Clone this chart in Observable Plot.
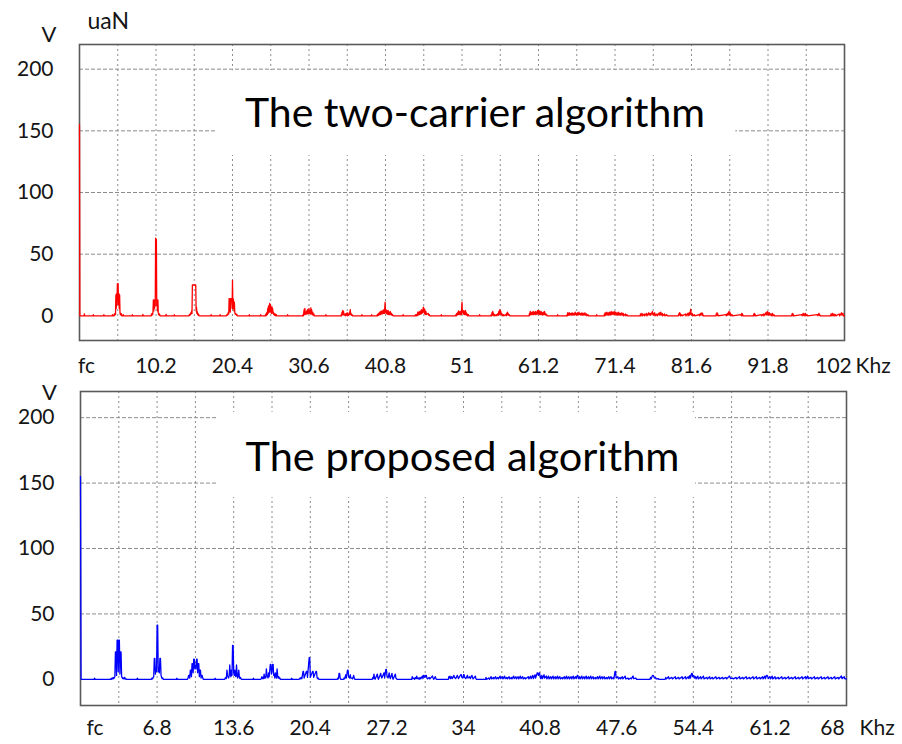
<!DOCTYPE html>
<html><head><meta charset="utf-8">
<script src="https://cdn.jsdelivr.net/npm/d3@7"></script>
<script src="https://cdn.jsdelivr.net/npm/@observablehq/plot@0.6"></script>
<style>
body{margin:0;background:#fff;}
#chart{width:902px;height:744px;overflow:hidden;}
#chart svg{display:block;}
</style></head><body><div id="chart"></div>
<script>
// ---- data: [frequency (kHz), amplitude (V)] ----
const topSpectrum = [
[0,155],[0.05,0],
[0.6,0],[0.65,1.5],[0.7,0],[1.8,0],[1.85,1],[1.9,0],[3.2,0],[3.25,1],[3.3,0],
[4.35,0],[4.4,1],[4.45,0],[4.6,0],[4.65,1.5],[4.7,0.5],[4.75,2],[4.8,1],[4.85,17],[4.9,6],[4.95,18],[5.0,9],[5.05,26],[5.1,12],[5.15,26],[5.2,9],[5.25,18],[5.3,6],[5.35,17],[5.4,2.5],[5.45,1],[5.5,2],[5.55,0.5],[5.6,1.5],[5.65,0],[5.8,0],[5.85,1],[5.9,0],
[7.0,0],[7.05,1],[7.1,0],[8.4,0],[8.45,1.2],[8.5,0],
[9.55,0],[9.6,1.5],[9.65,0.5],[9.7,2],[9.75,1],[9.8,3.5],[9.85,13],[9.9,4],[9.95,13],[10.0,6],[10.05,13],[10.1,8],[10.15,63],[10.2,22],[10.25,62],[10.3,8],[10.35,13],[10.4,4],[10.45,13],[10.5,3],[10.55,1],[10.6,2],[10.65,0.5],[10.7,1],[10.75,0],
[11.5,0],[11.55,1.2],[11.6,0],[12.6,0],[12.65,1],[12.7,0],
[14.6,0],[14.65,1],[14.7,0.5],[14.75,1.5],[14.8,1],[14.85,2.5],[14.9,1.5],[14.95,4],[15.0,2],[15.05,25],[15.5,25],[15.55,4],[15.6,7],[15.65,2],[15.7,3.5],[15.75,1],[15.8,2],[15.85,0.5],[15.9,1],[15.95,0],
[17.5,0],[17.55,1],[17.6,0],[18.7,0],[18.75,1],[18.8,0],
[19.6,0],[19.65,1],[19.7,0.5],[19.75,1.5],[19.8,1],[19.85,3],[19.9,1.5],[19.95,14],[20.0,4],[20.05,14],[20.1,3],[20.15,14],[20.3,14],[20.35,6],[20.4,29],[20.45,6],[20.5,14],[20.55,11],[20.6,4],[20.65,11],[20.7,3],[20.75,1.5],[20.8,2],[20.85,1],[20.9,1.5],[20.95,0.5],[21.0,1],[21.05,0],
[22.6,0],[22.65,1],[22.7,0],[24.1,0],[24.15,1],[24.2,0],
[24.75,0],[24.8,1],[24.85,0],[24.9,2],[24.95,0.5],[25.0,3],[25.05,1],[25.1,6],[25.15,2],[25.2,8],[25.25,3],[25.3,5],[25.35,10],[25.4,3],[25.45,9],[25.5,4],[25.55,5],[25.6,2],[25.65,7.5],[25.7,3],[25.75,6],[25.8,2],[25.85,3],[25.9,1],[25.95,2],[26.0,0.5],[26.1,1.5],[26.15,0],[26.25,1],[26.3,0],
[27.7,0],[27.75,1],[27.8,0],
[29.75,0],[29.8,1],[29.85,0],[29.95,5],[30.0,1],[30.05,6],[30.1,2],[30.15,3],[30.2,1],[30.3,4],[30.35,2],[30.4,5],[30.45,1.5],[30.55,3],[30.6,6],[30.65,2],[30.75,4],[30.8,1.5],[30.85,6.5],[30.9,2],[30.95,5],[31.0,1],[31.1,3],[31.15,0.5],[31.25,1.5],[31.3,0],
[32.8,0],[32.85,1],[32.9,0],
[34.85,0],[34.9,1],[34.95,0],[35.0,3],[35.05,1],[35.1,4.5],[35.15,1.5],[35.2,3.5],[35.25,0.5],[35.4,1.5],[35.45,0],[35.55,2],[35.6,0.5],[35.7,2.5],[35.75,0],[35.85,1.5],[35.9,0.5],[36.0,3],[36.05,1],[36.1,5],[36.15,1.5],[36.2,2],[36.25,0.5],[36.35,1],[36.4,0],
[37.6,0],[37.65,1],[37.7,0],[38.9,0],[38.95,1],[39.0,0],
[39.65,0],[39.7,1],[39.75,0],[39.85,2],[39.9,0.5],[40.0,2.5],[40.05,1],[40.1,3.5],[40.15,1],[40.3,4],[40.35,1.5],[40.45,3],[40.5,4.5],[40.55,2],[40.6,5],[40.65,2],[40.75,11],[40.8,3],[40.85,5],[40.9,2],[40.95,4.5],[41.0,1.5],[41.05,3.5],[41.1,1.5],[41.15,4.5],[41.2,1],[41.3,3],[41.35,1],[41.45,3.5],[41.5,1],[41.6,2],[41.65,0.5],[41.75,1],[41.8,0],
[43.1,0],[43.15,1],[43.2,0],
[44.75,0],[44.8,1],[44.85,0],[44.95,1],[45.0,0],[45.1,3],[45.15,0.5],[45.25,1.5],[45.3,3.5],[45.35,1],[45.45,2],[45.5,4],[45.55,1.5],[45.6,5],[45.65,2],[45.75,3],[45.85,7],[45.9,3],[45.95,6],[46.0,2],[46.05,5],[46.1,1],[46.2,3.5],[46.25,1],[46.35,1.5],[46.5,2],[46.55,0.5],[46.65,1],[46.7,0],
[48.2,0],[48.25,1],[48.3,0],
[50.1,0],[50.2,1],[50.25,0],[50.3,2],[50.35,0.5],[50.45,3],[50.5,1],[50.55,4],[50.6,1.5],[50.65,3],[50.7,1],[50.75,3.5],[50.8,1],[50.85,2.5],[50.9,1],[51.0,11],[51.05,3],[51.1,4.5],[51.15,1.5],[51.2,4],[51.25,1.5],[51.3,3.5],[51.35,1],[51.45,4.5],[51.5,1],[51.55,3],[51.6,0.5],[51.7,1.5],[51.75,0],[51.85,1],[51.9,0],
[53.3,0],[53.35,1],[53.4,0],
[54.85,0],[54.9,1],[54.95,0],[55.0,2.5],[55.05,0.5],[55.1,3.5],[55.15,1],[55.2,2],[55.25,0],[55.35,1],[55.4,0],[55.6,1],[55.65,0],[55.8,2],[55.85,0.5],[55.9,3.5],[55.95,1],[56.05,5],[56.1,1.5],[56.15,4],[56.2,1],[56.3,2],[56.35,0],[56.5,1],[56.55,0],[56.85,1],[56.9,0],[56.95,2],[57.0,0.5],[57.05,3],[57.1,1],[57.15,2],[57.2,0.5],[57.3,1],[57.35,0],
[59.95,0],[60.0,2],[60.05,0.5],[60.1,3.5],[60.15,1],[60.2,3],[60.25,1],[60.35,2],[60.4,3],[60.45,1],[60.5,3.5],[60.55,1],[60.7,3],[60.75,1],[60.8,3.5],[60.85,1.5],[60.95,3],[61.0,1],[61.05,4],[61.1,2],[61.15,4.5],[61.2,2],[61.25,3.5],[61.3,1],[61.35,4],[61.4,1.5],[61.45,3],[61.5,1],[61.55,3.5],[61.6,1],[61.7,2.5],[61.75,0.5],[61.85,3],[61.9,1],[62.0,3.5],[62.05,1],[62.15,2],[62.2,0.5],[62.3,1],[62.35,0],
[63.7,0],[63.75,1],[63.8,0],
[64.95,0],[65.0,1],[65.05,0],[65.1,2.5],[65.15,0.5],[65.2,1.5],[65.25,0.5],[65.3,2.5],[65.35,0.5],[65.5,2],[65.55,0.5],[65.7,2.5],[65.75,0.5],[65.9,2],[65.95,0.5],[66.1,3],[66.15,1],[66.2,2],[66.25,0.5],[66.4,2.5],[66.45,0.5],[66.6,3],[66.65,1],[66.8,2],[66.85,0.5],[67.0,2.5],[67.05,0.5],[67.2,2],[67.25,0.5],[67.4,2.5],[67.45,0.5],[67.6,1.5],[67.65,0],[67.8,1],[67.85,0],
[68.9,0],[68.95,1],[69.0,0],
[69.95,0],[70.0,1.5],[70.05,0],[70.1,2.5],[70.15,0.5],[70.3,3],[70.35,0.5],[70.5,2.5],[70.55,0.5],[70.7,3],[70.75,0.5],[70.9,3.5],[70.95,1],[71.1,3],[71.15,1],[71.3,3.5],[71.35,1],[71.5,3],[71.55,0.5],[71.7,2.5],[71.75,0.5],[71.9,3],[71.95,0.5],[72.1,2],[72.15,0.5],[72.3,2.5],[72.35,0.5],[72.5,2],[72.55,0],[72.8,1.5],[72.85,0],[73.0,1],[73.05,0],
[74.75,0],[74.8,1.5],[74.85,0],[75.0,2],[75.05,0],[75.3,1.5],[75.35,0],[75.6,2],[75.65,0],[75.9,2.5],[75.95,0.5],[76.1,2],[76.15,0.5],[76.4,3.5],[76.45,1],[76.5,2],[76.55,0.5],[76.7,2.5],[76.75,0],[77.0,1.5],[77.05,0],[77.3,2.5],[77.35,0.5],[77.5,3],[77.55,0.5],[77.7,2],[77.75,0],[78.0,1.5],[78.05,0],[78.3,1],[78.35,0],
[79.85,0],[79.9,1.5],[79.95,0.5],[80.0,2.5],[80.05,0.5],[80.1,2],[80.15,0],[80.3,1],[80.35,0],[80.8,1.5],[80.85,0],[81.1,2],[81.15,0],[81.3,2.5],[81.35,0.5],[81.5,5.5],[81.55,1],[81.7,2],[81.75,0],[82.0,1],[82.05,0],[82.6,1],[82.65,0],[82.8,2],[82.85,0.5],[83.0,2.5],[83.05,0.5],[83.1,1.5],[83.15,0],
[84.85,0],[84.9,1.5],[84.95,0.5],[85.0,2.5],[85.05,0.5],[85.1,1.5],[85.15,0],[86.2,1],[86.25,0],[86.4,2],[86.45,0.5],[86.6,3.5],[86.65,1],[86.7,3],[86.75,0.5],[86.8,2],[86.85,0],[87.0,1],[87.05,0],[88.2,1],[88.25,0],[88.3,2],[88.35,0.5],[88.4,1.5],[88.45,0],
[89.85,0],[89.9,1.5],[89.95,0.5],[90.0,2],[90.05,0],[90.1,1],[90.15,0],[90.9,1],[90.95,0],[91.2,1.5],[91.25,0],[91.5,2.5],[91.55,0.5],[91.7,3.5],[91.75,1],[91.8,3],[91.85,0.5],[92.0,2.5],[92.05,0.5],[92.2,1.5],[92.25,0],[92.4,2],[92.45,0],[92.6,1],[92.65,0],
[94.95,0],[95.0,1.5],[95.05,0.5],[95.1,2],[95.15,0],[95.2,1],[95.25,0],[96.3,1],[96.35,0],[96.5,2],[96.55,0.5],[96.6,1.5],[96.65,0],[96.8,2],[96.85,0],[97.0,1],[97.05,0],[98.4,1],[98.45,0],[98.6,2],[98.65,0.5],[98.7,1],[98.75,0],
[100.15,0],[100.2,1.5],[100.25,0],[100.4,2],[100.45,0],[100.6,1.5],[100.65,0],[100.8,1],[100.85,0],[101.3,1.5],[101.35,0],[101.6,2.5],[101.65,0.5],[101.8,2],[101.85,0],[102,0]
];

const bottomSpectrum = [
[0,155],[0.05,0],
[1.2,0],[1.25,0.8],[1.3,0],
[2.65,0],[2.7,0.5],[2.75,0],[2.8,1],[2.85,0.3],[2.9,1.5],[2.95,0.5],[3.0,1.2],[3.05,2],[3.1,21],[3.15,21],[3.2,3],[3.25,30],[3.3,30],[3.35,6],[3.4,30],[3.45,30],[3.5,4],[3.55,21],[3.6,21],[3.65,2],[3.7,1.5],[3.75,0.5],[3.8,1],[3.85,0.3],[3.9,1.5],[3.95,0.3],[4.0,0.8],[4.05,0],
[5.0,0],[5.05,0.8],[5.1,0],
[6.3,0],[6.35,1],[6.4,0.3],[6.45,1.5],[6.5,2],[6.55,16],[6.6,16],[6.65,4],[6.7,8],[6.75,6],[6.8,41.5],[6.85,41.5],[6.9,6],[6.95,8],[7.0,5],[7.05,16],[7.1,16],[7.15,3],[7.2,1.5],[7.25,0.5],[7.3,1],[7.35,0],
[8.5,0],[8.55,0.8],[8.6,0],
[9.5,0],[9.55,1],[9.6,3],[9.65,3],[9.7,1],[9.75,7],[9.8,7],[9.85,2],[9.9,12],[9.95,12],[10.0,5],[10.05,15.5],[10.1,15.5],[10.15,8],[10.2,10],[10.25,8],[10.3,15.5],[10.35,15.5],[10.4,5],[10.45,12],[10.5,12],[10.55,2],[10.6,7],[10.65,7],[10.7,1],[10.75,3],[10.8,3],[10.85,1],[10.9,0],
[11.9,0],[11.95,0.8],[12.0,0],
[12.8,0],[12.85,1],[12.9,1.5],[12.95,0.5],[13.0,7],[13.05,3],[13.1,2],[13.15,1],[13.2,3],[13.25,11],[13.3,4],[13.35,2],[13.4,7],[13.45,3],[13.5,26],[13.55,26],[13.6,5],[13.65,3],[13.7,7],[13.75,3],[13.8,2],[13.85,11],[13.9,4],[13.95,1],[14.0,3],[14.05,7],[14.1,2],[14.15,0.5],[14.2,1.5],[14.25,0.5],[14.3,0],
[15.3,0],[15.35,0.8],[15.4,0],
[16.0,0],[16.05,0.5],[16.1,2],[16.15,0.5],[16.2,1.5],[16.25,0.5],[16.3,4],[16.35,1],[16.4,2],[16.45,1],[16.5,8],[16.55,3],[16.6,2],[16.65,1],[16.7,5],[16.75,2],[16.85,11.5],[16.9,11.5],[16.95,4],[17.0,6],[17.05,11.5],[17.1,11.5],[17.15,3],[17.2,4],[17.25,1],[17.3,5],[17.35,3],[17.4,1],[17.45,8],[17.5,3],[17.55,1],[17.6,2],[17.65,0.5],[17.7,1],[17.75,0],
[18.7,0],[18.75,0.8],[18.8,0],
[19.4,0],[19.45,0.5],[19.5,1],[19.55,0.3],[19.6,1.5],[19.65,0.5],[19.75,6],[19.8,6],[19.85,1],[20.05,6],[20.1,6],[20.15,1.5],[20.3,16.5],[20.35,16.5],[20.4,1.5],[20.6,6],[20.65,6],[20.7,1.5],[20.9,6],[20.95,6],[21.0,1.5],[21.05,0.5],[21.1,1],[21.15,0],
[22.8,0],[22.85,1],[22.9,0.3],[22.95,4.5],[23.0,4.5],[23.05,1],[23.1,0],[23.35,0],[23.4,1],[23.45,0.3],[23.55,3.5],[23.6,1],[23.7,7],[23.75,7],[23.8,2],[23.9,1],[23.95,3.5],[24.0,1],[24.1,1],[24.15,0.3],[24.25,3],[24.3,1],[24.35,0],
[25.9,0],[25.95,1.5],[26.0,0.5],[26.05,4],[26.1,1],[26.15,0],[26.35,4],[26.4,1],[26.45,0],[26.65,4.5],[26.7,2],[26.75,1],[26.95,5],[27.0,1],[27.1,7.5],[27.15,7.5],[27.2,3],[27.3,1],[27.4,5],[27.45,2],[27.5,0.5],[27.65,4.5],[27.7,1.5],[27.75,0],[27.95,4],[28.0,1],[28.1,0],
[29.4,0],[29.45,2],[29.5,0.5],[29.6,1],[29.65,0],[29.75,1.5],[29.8,0.5],[29.85,2.5],[29.9,0.5],[30.0,1],[30.05,0],[30.15,1.5],[30.2,0.3],[30.35,2.5],[30.4,0.5],[30.45,3],[30.5,3],[30.55,1.5],[30.65,3],[30.7,3],[30.75,1],[30.8,0.3],[30.95,1.5],[31.0,0.3],[31.25,2.5],[31.3,1],[31.35,0],[31.5,2],[31.55,0.5],[31.6,0],
[32.65,0],[32.7,2],[32.75,1],[32.8,2.5],[32.85,0.5],[32.95,2],[33.0,0.5],[33.15,3],[33.2,1.5],[33.3,0.5],[33.45,3],[33.5,2],[33.55,0.5],[33.75,3.5],[33.8,3.5],[33.85,1.5],[33.95,1],[34.0,3.5],[34.05,3.5],[34.1,1.5],[34.2,0.5],[34.35,3],[34.4,1],[34.55,2],[34.6,0.5],[34.75,3],[34.8,1.5],[34.85,0.3],[35.05,2.5],[35.1,0.5],[35.15,0],
[35.95,0],[36.0,1.5],[36.05,0],[36.25,1],[36.3,0],[36.45,2],[36.5,0.3],[36.65,1.5],[36.7,0.3],[36.85,2],[36.9,0.3],[37.05,1.5],[37.1,0.3],[37.25,2.5],[37.3,0.5],[37.45,2],[37.5,0.3],[37.65,2.5],[37.7,0.5],[37.85,1.5],[37.9,0.3],[38.05,2],[38.1,0.3],[38.25,1.5],[38.3,0.3],[38.45,2.5],[38.5,0.5],[38.65,2],[38.7,0.3],[38.85,2],[38.9,0.3],[39.05,2.5],[39.1,0.5],[39.25,2],[39.3,0.3],[39.45,1.5],[39.5,0.3],
[39.75,2],[39.8,0.3],[39.95,2.5],[40.0,0.5],[40.15,3],[40.2,0.5],[40.35,3.5],[40.4,1],[40.55,5],[40.6,5],[40.65,3],[40.75,5],[40.8,2.5],[40.85,0.5],[40.95,3],[41.0,0.5],[41.15,3.5],[41.2,1],[41.35,2.5],[41.4,0.3],[41.55,2.5],[41.6,0.3],[41.75,2],[41.8,0.3],[41.95,2.5],[42.0,0.3],[42.15,2],[42.2,0.3],[42.35,2.5],[42.4,0.3],[42.55,2],[42.6,0.3],[42.75,1.5],[42.8,0.3],[42.95,2],[43.0,0.3],[43.15,2.5],[43.2,0.3],[43.35,2],[43.4,0.3],
[43.55,2],[43.6,0.3],[43.75,2.5],[43.8,0.3],[43.95,2],[44.0,0.5],[44.1,3],[44.15,3],[44.2,0.5],[44.3,2],[44.35,0.3],[44.5,2.5],[44.55,0.3],[44.7,2],[44.75,0.3],[44.9,2.5],[44.95,0.3],[45.1,2],[45.15,0.3],[45.3,2.5],[45.35,0.3],[45.5,2],[45.55,0.3],[45.7,1.5],[45.75,0.3],[45.9,2],[45.95,0.3],[46.1,2.5],[46.15,0.3],[46.3,2],[46.35,0.3],[46.5,2],[46.55,0.3],[46.7,1.5],[46.75,0.3],[46.9,2],[46.95,0.3],[47.1,2],[47.15,0.3],[47.3,1.5],[47.35,0.3],
[47.45,6],[47.5,6],[47.55,1],[47.7,2],[47.75,0.3],[47.9,1.5],[47.95,0.3],[48.1,2],[48.15,0.3],[48.35,2.5],[48.4,0.3],[48.6,1],[48.65,0],[48.85,1],[48.9,0.3],[49.0,2],[49.05,2.5],[49.1,0.5],[49.3,1],[49.35,0],
[50.55,0],[50.6,1.5],[50.65,0.3],[50.75,2.5],[50.8,3],[50.85,3],[50.9,2],[50.95,1],[51.05,1.5],[51.1,0.3],[51.3,0.5],[51.35,0],
[51.9,0],[51.95,1.5],[52.0,0.3],[52.2,2],[52.25,0.3],[52.5,1.5],[52.55,0.3],[52.8,2],[52.85,0.3],[53.1,1.5],[53.15,0.3],[53.4,2],[53.45,0.3],[53.7,2],[53.75,0.3],
[53.95,2],[54.0,0.5],[54.1,3],[54.15,1],[54.25,4.5],[54.3,4.5],[54.35,2],[54.45,3],[54.5,1],[54.6,2],[54.65,0.3],[54.8,2.5],[54.85,0.3],[55.05,2],[55.1,0.3],[55.3,2.5],[55.35,0.3],[55.6,1.5],[55.65,0.3],[55.85,2],[55.9,0.3],[56.1,1.5],[56.15,0.3],[56.4,2],[56.45,0.3],[56.7,1.5],[56.75,0.3],[57.0,1.5],[57.05,0.3],
[57.3,1.5],[57.35,0.3],[57.55,2],[57.6,2.5],[57.65,2],[57.7,0.5],[57.9,1],[57.95,0.3],[58.2,1.5],[58.25,0.3],[58.5,2],[58.55,0.3],[58.8,1.5],[58.85,0.3],[59.1,2],[59.15,0.3],[59.4,1.5],[59.45,0.3],[59.7,2],[59.75,0.3],[60.0,2],[60.05,0.3],[60.3,1.5],[60.35,0.3],
[60.55,2],[60.6,0.3],[60.75,2.5],[60.8,0.5],[60.9,3],[60.95,3],[61.0,2.5],[61.05,0.5],[61.2,2],[61.25,0.3],[61.4,2.5],[61.45,0.3],[61.65,2],[61.7,0.3],[61.95,1.5],[62.0,0.3],[62.25,2],[62.3,0.3],[62.55,1.5],[62.6,0.3],[62.85,2],[62.9,0.3],[63.15,1.5],[63.2,0.3],[63.45,2],[63.5,0.3],
[63.75,1.5],[63.8,0.3],[64.05,2],[64.1,0.3],[64.35,2],[64.4,0.3],[64.55,2.5],[64.6,0.5],[64.85,1.5],[64.9,0.3],[65.15,2],[65.2,0.3],[65.45,1.5],[65.5,0.3],[65.75,2],[65.8,0.3],[66.05,1.5],[66.1,0.3],[66.35,2],[66.4,0.3],[66.65,1.5],[66.7,0.3],[66.95,2],[67.0,0.3],[67.25,1.5],[67.3,0.3],[67.55,2.5],[67.6,0.5],[67.8,2],[67.85,0.3],[68,0.3]
];

// ---- axes / grid values ----
const yTicks = [0, 50, 100, 150, 200];
const gridY = [50, 100, 150, 200];
const topGridX = [5.1,10.2,15.3,20.4,25.5,30.6,35.7,40.8,45.9,51,56.1,61.2,66.3,71.4,76.5,81.6,86.7,91.8,96.9];
const topTickValues = [10.2,20.4,30.6,40.8,51,61.2,71.4,81.6,91.8];
const topLastTick = [102];
const bottomGridX = [3.4,6.8,10.2,13.6,17,20.4,23.8,27.2,30.6,34,37.4,40.8,44.2,47.6,51,54.4,57.8,61.2,64.6];
const bottomTickValues = [6.8,13.6,20.4,27.2,34,40.8,47.6,54.4,61.2];
const bottomLastTick = [68];
const topTitle = "The two-carrier algorithm";
const bottomTitle = "The proposed algorithm";
const topBox = {x1: 18.2, x2: 87.5, y1: 130, y2: 198.8};
const bottomBox = {x1: 12.2, x2: 54.6, y1: 139, y2: 204};

const FONT = "Lato, 'Open Sans', 'DejaVu Sans', sans-serif";
const INK = "#151515";
const GRID = "#8c8c8c";

function panel(o) {
  return Plot.plot({
    width: 902, height: o.height,
    marginTop: o.mt, marginBottom: o.mb, marginLeft: o.ml, marginRight: o.mr,
    x: {domain: [0, o.xMax], axis: null},
    y: {domain: [-20, 220], axis: null},
    style: {fontFamily: FONT, fontSize: "21px", color: INK, background: "#fff", overflow: "visible"},
    marks: [
      Plot.ruleX(o.gridX, {stroke: GRID, strokeDasharray: "2,3", strokeWidth: 1}),
      Plot.ruleY(gridY, {stroke: GRID, strokeDasharray: "4,2", strokeWidth: 1}),
      Plot.rect([o.box], {x1: "x1", x2: "x2", y1: "y1", y2: "y2", fill: "#fff"}),
      Plot.frame({stroke: "#5a5a5a", strokeWidth: 1.6}),
      Plot.line(o.data, {x: d => d[0], y: d => d[1], stroke: o.color, strokeWidth: 1.3}),
      Plot.axisY({ticks: yTicks, tickSize: 0, tickPadding: 26, fontSize: 21, fill: INK}),
      Plot.text(o.ticks, {x: d => d, text: d => String(d), frameAnchor: "bottom", lineAnchor: "middle", dy: o.labelDy, fontSize: 21, fill: INK}),
      Plot.text(o.last, {x: d => d, text: d => String(d), frameAnchor: "bottom", lineAnchor: "middle", dy: o.labelDy, dx: o.lastDx, fontSize: 21, fill: INK}),
      Plot.text(o.last, {x: d => d, text: () => "Khz", frameAnchor: "bottom", lineAnchor: "middle", textAnchor: "start", dy: o.labelDy, dx: o.khzDx, fontSize: 21, fill: INK}),
      Plot.text([0], {x: d => d, text: () => "fc", frameAnchor: "bottom", lineAnchor: "middle", textAnchor: "middle", dy: o.labelDy, dx: o.fcDx, fontSize: 21, fill: INK}),
      Plot.text(["V"], {text: d => d, frameAnchor: "top-left", textAnchor: "middle", dx: o.vDx, dy: o.vDy, lineAnchor: "middle", fontSize: 22, fill: INK}),
      ...(o.unit ? [Plot.text([o.unit], {text: d => d, frameAnchor: "top-left", textAnchor: "start", dx: 8, dy: -22.5, lineAnchor: "middle", fontSize: 23, fill: INK})] : []),
      Plot.text([o.title], {text: d => d, frameAnchor: "top-left", textAnchor: "middle", dx: o.tDx, dy: o.tDy, lineAnchor: "middle", fontSize: o.tSize, fill: "#000"})
    ]
  });
}

const root = document.getElementById("chart");
root.appendChild(panel({
  height: 380, mt: 44, mb: 40, ml: 79, mr: 58, xMax: 102,
  gridX: topGridX, box: topBox, data: topSpectrum, color: "#ff0000",
  ticks: topTickValues, last: topLastTick, labelDy: 26, lastDx: -11, khzDx: 11, fcDx: 7,
  vDx: -30.5, vDy: -9.5, unit: "uaN", title: topTitle, tDx: 395.5, tDy: 69, tSize: 41
}));
root.appendChild(panel({
  height: 364, mt: 11, mb: 39, ml: 80, mr: 56, xMax: 68,
  gridX: bottomGridX, box: bottomBox, data: bottomSpectrum, color: "#0000ff",
  ticks: bottomTickValues, last: bottomLastTick, labelDy: 22.5, lastDx: -14, khzDx: 13, fcDx: 14.5,
  vDx: -31, vDy: 1.5, unit: null, title: bottomTitle, tDx: 382, tDy: 66, tSize: 41.5
}));
</script>
</body></html>
